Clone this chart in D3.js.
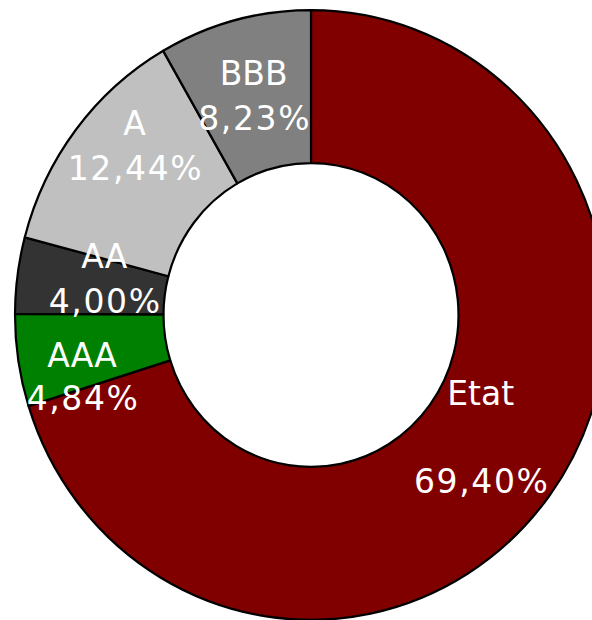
<!DOCTYPE html>
<html><head><meta charset="utf-8">
<script src="https://cdn.jsdelivr.net/npm/d3@7"></script>
<style>html,body{margin:0;padding:0;background:#fff;overflow:hidden}</style>
</head><body>
<svg id="c" width="592" height="620"></svg>
<script>
const categories = ["Etat", "AAA", "AA", "A", "BBB"];
const values = [69.40, 4.84, 4.00, 12.44, 8.23];
const labels = ["69,40%", "4,84%", "4,00%", "12,44%", "8,23%"];
const colors = ["#800000", "#008000", "#333333", "#C0C0C0", "#808080"];
// label nudges (radius, angle deg, line gap)
const labelR = [209, 237, 210, 245, 227];
const labelA = [-0.6, -6.4, 2.5, 6.5, 0.35];
const lineGap = [88, 43, 45, 45, 45];

const svg = d3.select("#c");
const cx = 311, cy = 315, sy = 1.03;
const g = svg.append("g").attr("transform", `translate(${cx},${cy}) scale(1,${sy})`);
const pie = d3.pie().sort(null).value(d => d)(values);
const arc = d3.arc().innerRadius(147.5).outerRadius(296);
g.selectAll("path").data(pie).join("path")
  .attr("d", arc)
  .attr("fill", (d, i) => colors[i])
  .attr("stroke", "#000").attr("stroke-width", 2.2).attr("stroke-linejoin", "round");

const lg = svg.append("g").attr("transform", `translate(${cx},${cy})`);
pie.forEach((d, i) => {
  const a = (d.startAngle + d.endAngle) / 2 + labelA[i] * Math.PI / 180;
  const x = Math.sin(a) * labelR[i];
  const y = -Math.cos(a) * labelR[i];
  const t = lg.append("g").attr("transform", `translate(${x},${y})`)
    .append("text")
    .attr("text-anchor", "middle")
    .attr("fill", "#fff")
    .style("font-family", "Verdana, 'DejaVu Sans', sans-serif")
    .style("font-size", "33px");
  t.append("tspan").attr("x", 0).attr("y", -lineGap[i] / 2 + 12).text(categories[i]);
  t.append("tspan").attr("x", 0).attr("dx", 1).attr("y", lineGap[i] / 2 + 12)
    .style("letter-spacing", "1.6px").text(labels[i]);
});
</script>
</body></html>
